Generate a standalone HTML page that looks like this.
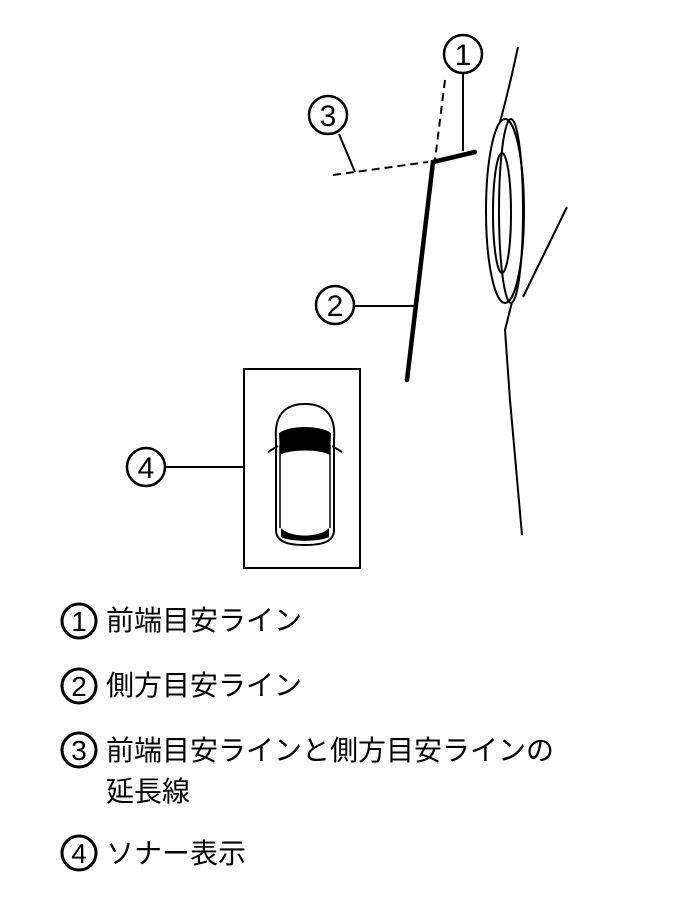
<!DOCTYPE html>
<html><head><meta charset="utf-8"><style>
html,body{margin:0;padding:0;background:#fff;}
svg{display:block}
text{font-family:"Liberation Sans","Noto Sans CJK JP",sans-serif;}
</style></head><body>
<svg width="686" height="910" viewBox="0 0 686 910" xmlns="http://www.w3.org/2000/svg">
<g fill="none" stroke="#000" stroke-width="2">
<circle cx="463" cy="54" r="19" stroke-width="2.5"/>
<line x1="463" y1="73" x2="463" y2="151"/>
<circle cx="328" cy="115" r="19" stroke-width="2.5"/>
<line x1="339" y1="134" x2="355" y2="172"/>
<circle cx="335" cy="305" r="19" stroke-width="2.5"/>
<line x1="354" y1="306" x2="415" y2="306"/>
<path d="M445 80 L435 160" stroke-dasharray="8,5"/>
<path d="M333 175 L428 162" stroke-dasharray="8,5"/>
<path d="M407 380 L433 162 L475 152" stroke-width="4.5" stroke-linecap="round"/>
<path d="M518 47 C512 75 506 100 500 122"/>
<ellipse cx="505" cy="211" rx="19" ry="92"/>
<ellipse cx="511" cy="211" rx="12" ry="92"/>
<ellipse cx="502" cy="213" rx="9" ry="60"/>
<line x1="567" y1="207" x2="523" y2="297"/>
<path d="M512 302 L505 330 L510 400 L522 535"/>
<rect x="244" y="369" width="116" height="199"/>
<line x1="165" y1="467" x2="244" y2="467"/>
<circle cx="146" cy="467" r="19" stroke-width="2.5"/>
<path d="M276 440 C274 415 285 404 305 404 C325 404 336 415 334 440 L334 530 C334 542 322 545 305 545 C288 545 276 542 276 530 Z"/>
<path d="M280 445 L280 528 M330 445 L330 528" stroke-width="1.5"/>
<path d="M268 452 L278 446 M342 452 L332 446" stroke-width="2"/>
</g>
<path d="M279 433 C290 425 320 425 331 433 L330 455 C320 449 290 449 280 455 Z" fill="#000"/>
<path d="M281 528 C290 538 320 538 329 528 L329 537 C320 542 290 542 281 537 Z" fill="#000"/>
<g font-size="30" text-anchor="middle" font-family="Liberation Sans, sans-serif">
<text x="463" y="65">1</text>
<text x="328" y="126">3</text>
<text x="335" y="316">2</text>
<text x="146" y="478">4</text>
</g>
<g fill="none" stroke="#000" stroke-width="3">
<circle cx="79" cy="621" r="17"/>
<circle cx="79" cy="686" r="17"/>
<circle cx="79" cy="750" r="17"/>
<circle cx="79" cy="853" r="17"/>
</g>
<g font-size="28" text-anchor="middle">
<text x="79" y="631">1</text>
<text x="79" y="696">2</text>
<text x="79" y="760">3</text>
<text x="79" y="863">4</text>
</g>
<g font-size="28">
<text x="106" y="630">前端目安ライン</text>
<text x="106" y="695">側方目安ライン</text>
<text x="106" y="760">前端目安ラインと側方目安ラインの</text>
<text x="106" y="801">延長線</text>
<text x="106" y="863">ソナー表示</text>
</g>
</svg>
</body></html>
